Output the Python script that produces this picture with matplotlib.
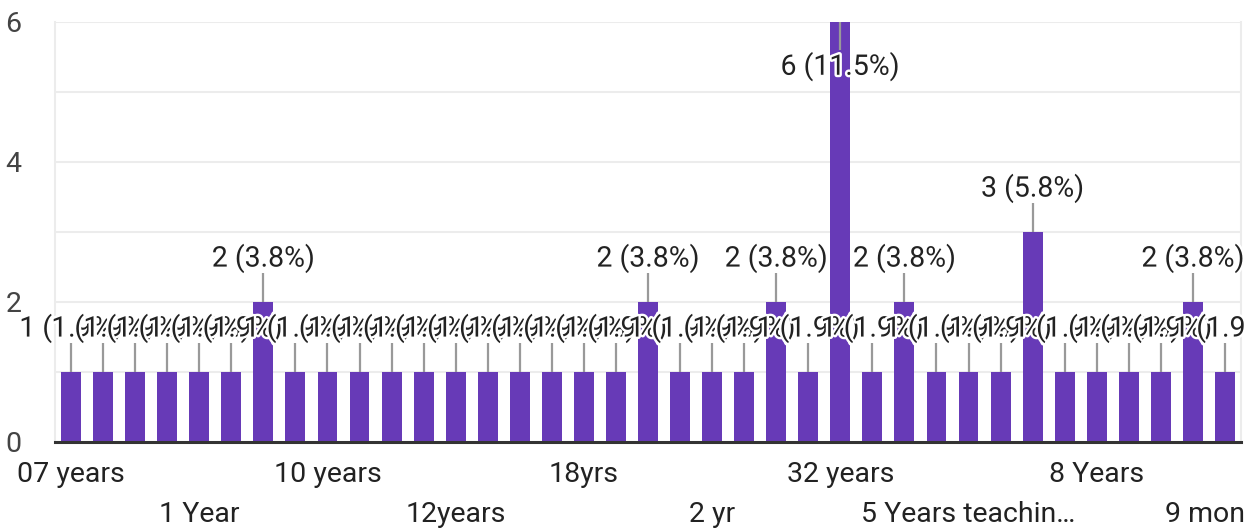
"""Bar chart of responses per category (Google Forms style), with count/percent labels."""

import matplotlib.pyplot as plt
import matplotlib.patheffects as pe
from matplotlib.transforms import blended_transform_factory

plt.rcParams["font.family"] = ["Roboto", "DejaVu Sans"]

# --- data ---
counts = [1, 1, 1, 1, 1, 1, 2, 1, 1, 1, 1, 1, 1, 1, 1, 1, 1, 1, 2, 1,
          1, 1, 2, 1, 6, 1, 2, 1, 1, 1, 3, 1, 1, 1, 1, 2, 1]
total_responses = 52
# only every 4th category name is visible in the chart
tick_labels = {
    0: "07 years", 4: "1 Year", 8: "10 years", 12: "12years", 16: "18yrs",
    20: "2 yr", 24: "32 years", 28: "5 Years teachin\u2026", 32: "8 Years",
    36: "9 months",
}
y_ticks = [0, 2, 4, 6]

BAR_COLOR = "#673AB7"
GRID_COLOR = "#ececec"
TEXT_COLOR = "#222222"
FS = 20.5

fig = plt.figure(figsize=(12.44, 5.29), dpi=100)
W, H = 1244, 529
ax = fig.add_axes([55 / W, 1 - 442 / H, (1241 - 55) / W, (442 - 22) / H])

x = list(range(len(counts)))
ax.bar(x, counts, width=0.62, color=BAR_COLOR, zorder=2)

ax.set_xlim(-0.5, len(counts) - 0.5)
ax.set_ylim(0, 6)

# grid lines at every unit
for yv in range(1, 7):
    ax.axhline(yv, color=GRID_COLOR, lw=1.5, zorder=0)

ax.spines["top"].set_visible(False)
ax.spines["left"].set_color(GRID_COLOR)
ax.spines["left"].set_linewidth(1.5)
ax.spines["right"].set_color(GRID_COLOR)
ax.spines["right"].set_linewidth(1.5)
ax.spines["bottom"].set_color("#333333")
ax.spines["bottom"].set_linewidth(2.2)
ax.spines["bottom"].set_zorder(5)

ax.set_yticks(y_ticks)
ax.set_yticklabels([str(t) for t in y_ticks], fontsize=FS, color="#444444")
ax.tick_params(axis="y", length=0, pad=24)
ax.set_xticks([])

# x labels in two staggered rows
trans = blended_transform_factory(ax.transData, ax.transAxes)
for k, (i, lab) in enumerate(sorted(tick_labels.items())):
    off = -33 if k % 2 == 0 else -72
    ax.annotate(lab, xy=(i, 0), xycoords=trans, xytext=(0, off),
                textcoords="offset pixels", ha="center", va="center",
                fontsize=FS, color=TEXT_COLOR, annotation_clip=False)

# value annotations with leader lines
ymax = 6
halo = [pe.withStroke(linewidth=3.5, foreground="white")]
for i, v in enumerate(counts):
    pct = v / total_responses * 100
    label = f"{v} ({pct:.1f}%)"
    if v + 0.8 > ymax:
        ax.plot([i, i], [v, v - 0.4], color="#999999", lw=1.6, zorder=3,
                solid_capstyle="butt")
        ty = v - 0.64
    else:
        ax.plot([i, i], [v, v + 0.42], color="#999999", lw=1.6, zorder=3,
                solid_capstyle="butt")
        ty = v + 0.62
    ax.text(i, ty, label, ha="center", va="center", fontsize=FS,
            color=TEXT_COLOR, zorder=10 + i, path_effects=halo)

fig.savefig("out.png", dpi=100)
